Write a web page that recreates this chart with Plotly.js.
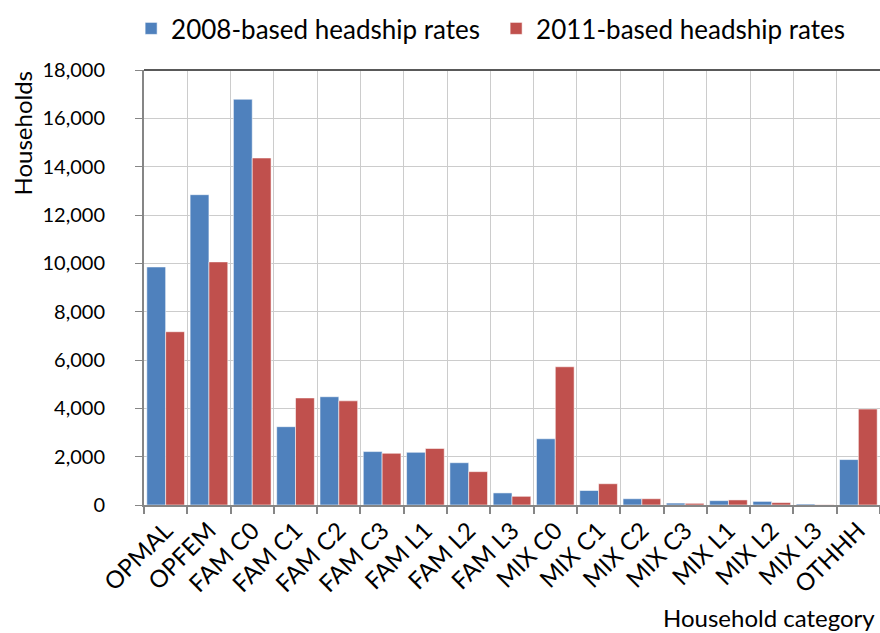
<!DOCTYPE html>
<html>
<head>
<meta charset="utf-8">
<script src="https://cdn.plot.ly/plotly-3.0.1.min.js"></script>
<style>
  html, body { margin: 0; padding: 0; background: #ffffff; }
  #chart { width: 880px; height: 633px; }
</style>
</head>
<body>
<div id="chart"></div>
<script>
// Household categories along the x axis
const categories = ["OPMAL", "OPFEM", "FAM C0", "FAM C1", "FAM C2", "FAM C3", "FAM L1", "FAM L2", "FAM L3",
                    "MIX C0", "MIX C1", "MIX C2", "MIX C3", "MIX L1", "MIX L2", "MIX L3", "OTHHH"];

// Households projected under each set of headship rates
const rates2008 = [9850, 12840, 16790, 3240, 4480, 2210, 2180, 1750, 500, 2740, 600, 260, 80, 180, 150, 40, 1880];
const rates2011 = [7170, 10060, 14360, 4430, 4310, 2140, 2340, 1380, 360, 5720, 880, 260, 70, 210, 100, 10, 3970];

const seriesNames = ["2008-based headship rates", "2011-based headship rates"];
const yTickValues = [0, 2000, 4000, 6000, 8000, 10000, 12000, 14000, 16000, 18000];
const yTickLabels = ["0", "2,000", "4,000", "6,000", "8,000", "10,000", "12,000", "14,000", "16,000", "18,000"];

const FONT = "Lato, 'Open Sans', sans-serif";

const traces = [
  {
    type: "bar", name: seriesNames[0], x: categories, y: rates2008,
    marker: { color: "#4F81BD", line: { color: "rgba(255,255,255,0.55)", width: 1 } }
  },
  {
    type: "bar", name: seriesNames[1], x: categories, y: rates2011,
    marker: { color: "#C0504D", line: { color: "rgba(255,255,255,0.55)", width: 1 } }
  }
];

const layout = {
  width: 880, height: 633,
  margin: { l: 144, r: 0, t: 70, b: 128, autoexpand: false },
  paper_bgcolor: "#ffffff", plot_bgcolor: "#ffffff",
  font: { family: FONT, size: 19, color: "#000000" },
  barmode: "group", bargap: 0.13, bargroupgap: 0,
  showlegend: true,
  legend: {
    orientation: "h", xref: "container", yref: "container",
    x: 0.149, xanchor: "left", y: 1 - 5 / 633, yanchor: "top",
    font: { family: FONT, size: 26, color: "#000000" },
    itemwidth: 30, traceorder: "normal", entrywidth: 320,
    bgcolor: "rgba(0,0,0,0)"
  },
  xaxis: {
    type: "category", tickson: "boundaries",
    showgrid: true, gridcolor: "#cccccc", gridwidth: 1,
    showline: true, linecolor: "#868686", linewidth: 2,
    ticks: "outside", ticklen: 7, tickcolor: "#868686", tickwidth: 2,
    tickangle: -45, tickfont: { family: FONT, size: 24, color: "#000000" },
    fixedrange: true
  },
  yaxis: {
    range: [0, 18000], tickmode: "array", tickvals: yTickValues, ticktext: yTickLabels,
    showgrid: true, gridcolor: "#cccccc", gridwidth: 1,
    showline: true, linecolor: "#868686", linewidth: 2,
    ticks: "outside", ticklen: 7, tickcolor: "#868686", tickwidth: 1,
    ticklabelstandoff: 26,
    tickfont: { family: FONT, size: 20, color: "#000000" },
    zeroline: false, fixedrange: true
  },
  shapes: [
    { type: "line", xref: "paper", yref: "paper", x0: 0, x1: 1, y0: 1, y1: 1,
      line: { color: "#595959", width: 2 } }
  ],
  annotations: [
    // y-axis title, set near the top of the axis
    { text: "Households", xref: "paper", yref: "paper", x: 0, y: 1, xanchor: "center", yanchor: "top",
      xshift: -122, yshift: 1, textangle: -90, showarrow: false,
      font: { family: FONT, size: 24, color: "#000000" } },
    // x-axis title, right-aligned under the axis
    { text: "Household category", xref: "paper", yref: "paper", x: 1, y: 0, xanchor: "right", yanchor: "middle",
      xshift: -3, yshift: -112, showarrow: false,
      font: { family: FONT, size: 24, color: "#000000" } }
  ]
};

Plotly.newPlot("chart", traces, layout, { displayModeBar: false, staticPlot: true });
</script>
</body>
</html>
